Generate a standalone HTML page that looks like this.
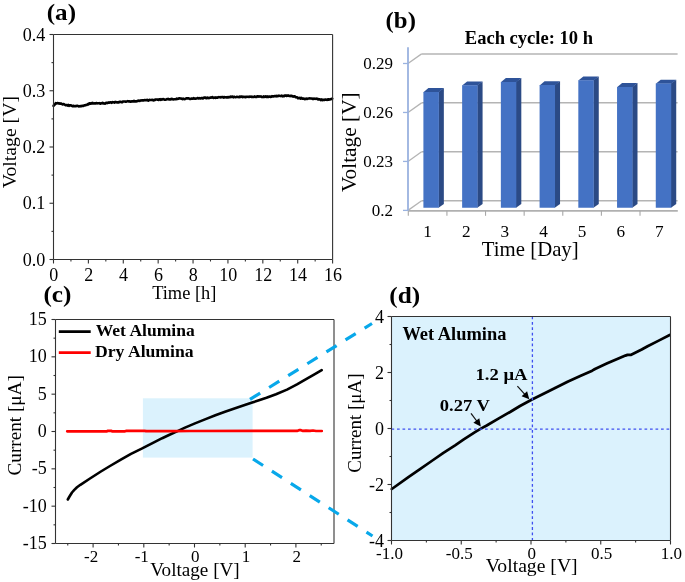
<!DOCTYPE html>
<html><head><meta charset="utf-8"><style>
html,body{margin:0;padding:0;background:#fff;}
svg{display:block;will-change:transform;}
text{font-family:"Liberation Serif",serif;fill:#000;}
</style></head><body>
<svg width="685" height="582" viewBox="0 0 685 582">
<rect width="685" height="582" fill="#fff"/>
<path d="M53.60,105.84 L54.30,104.80 L55.00,104.37 L55.70,103.20 L56.40,103.56 L57.10,103.35 L57.80,103.02 L58.50,103.50 L59.20,103.20 L59.90,103.68 L60.60,103.48 L61.30,103.63 L62.00,104.05 L62.70,104.54 L63.40,104.04 L64.10,104.26 L64.80,104.76 L65.50,105.19 L66.20,104.99 L66.90,104.96 L67.60,105.62 L68.30,104.92 L69.00,105.79 L69.70,105.41 L70.40,105.36 L71.10,105.41 L71.80,105.67 L72.50,106.20 L73.20,105.71 L73.90,106.15 L74.60,106.28 L75.30,106.09 L76.00,106.26 L76.70,105.84 L77.40,105.85 L78.10,105.99 L78.80,106.43 L79.50,106.21 L80.20,106.12 L80.90,106.33 L81.60,106.05 L82.30,105.75 L83.00,106.03 L83.70,105.78 L84.40,105.21 L85.10,105.33 L85.80,105.01 L86.50,105.06 L87.20,104.66 L87.90,103.99 L88.60,104.34 L89.30,103.29 L90.00,103.48 L90.70,103.74 L91.40,103.14 L92.10,103.40 L92.80,102.94 L93.50,103.46 L94.20,103.50 L94.90,103.27 L95.60,103.54 L96.30,103.03 L97.00,103.38 L97.70,103.28 L98.40,103.27 L99.10,103.16 L99.80,103.51 L100.50,103.60 L101.20,103.18 L101.90,103.35 L102.60,102.80 L103.30,103.38 L104.00,103.33 L104.70,103.64 L105.40,103.43 L106.10,102.88 L106.80,102.91 L107.50,103.10 L108.20,102.45 L108.90,102.78 L109.60,102.46 L110.30,102.35 L111.00,102.23 L111.70,102.81 L112.40,102.17 L113.10,102.21 L113.80,102.27 L114.50,102.64 L115.20,101.87 L115.90,102.14 L116.60,102.20 L117.30,102.46 L118.00,102.36 L118.70,102.36 L119.40,101.80 L120.10,101.88 L120.80,101.79 L121.50,102.23 L122.20,102.26 L122.90,101.49 L123.60,101.48 L124.30,101.49 L125.00,101.45 L125.70,101.64 L126.40,101.69 L127.10,101.36 L127.80,101.09 L128.50,101.43 L129.20,101.34 L129.90,101.48 L130.60,101.79 L131.30,101.52 L132.00,101.32 L132.70,101.37 L133.40,101.39 L134.10,100.79 L134.80,101.51 L135.50,101.37 L136.20,101.41 L136.90,101.31 L137.60,100.90 L138.30,100.86 L139.00,100.55 L139.70,100.99 L140.40,100.43 L141.10,100.39 L141.80,100.47 L142.50,100.38 L143.20,100.50 L143.90,100.19 L144.60,100.10 L145.30,100.19 L146.00,100.10 L146.70,100.30 L147.40,99.95 L148.10,100.67 L148.80,100.39 L149.50,99.92 L150.20,99.97 L150.90,100.01 L151.60,99.98 L152.30,99.72 L153.00,100.33 L153.70,100.41 L154.40,99.90 L155.10,99.87 L155.80,99.46 L156.50,99.43 L157.20,99.61 L157.90,99.49 L158.60,99.95 L159.30,99.31 L160.00,99.15 L160.70,99.96 L161.40,99.55 L162.10,99.18 L162.80,99.50 L163.50,99.01 L164.20,99.43 L164.90,99.81 L165.60,99.68 L166.30,99.50 L167.00,99.08 L167.70,99.14 L168.40,98.93 L169.10,99.45 L169.80,99.21 L170.50,99.40 L171.20,98.97 L171.90,98.84 L172.60,99.34 L173.30,99.47 L174.00,99.32 L174.70,99.25 L175.40,99.23 L176.10,99.13 L176.80,98.64 L177.50,98.88 L178.20,98.70 L178.90,98.38 L179.60,98.35 L180.30,98.55 L181.00,98.50 L181.70,98.87 L182.40,99.10 L183.10,98.63 L183.80,99.07 L184.50,99.10 L185.20,99.07 L185.90,98.53 L186.60,98.39 L187.30,98.39 L188.00,98.35 L188.70,98.35 L189.40,98.72 L190.10,98.96 L190.80,98.87 L191.50,98.51 L192.20,98.64 L192.90,98.74 L193.60,98.06 L194.30,98.55 L195.00,98.74 L195.70,98.59 L196.40,98.53 L197.10,98.26 L197.80,97.95 L198.50,98.47 L199.20,98.03 L199.90,98.42 L200.60,98.54 L201.30,97.99 L202.00,97.96 L202.70,98.42 L203.40,98.19 L204.10,97.66 L204.80,97.59 L205.50,97.58 L206.20,98.22 L206.90,98.10 L207.60,97.48 L208.30,98.06 L209.00,98.16 L209.70,97.84 L210.40,97.53 L211.10,97.68 L211.80,97.27 L212.50,97.15 L213.20,97.99 L213.90,97.68 L214.60,97.55 L215.30,97.90 L216.00,97.43 L216.70,97.80 L217.40,97.74 L218.10,97.17 L218.80,97.19 L219.50,97.21 L220.20,97.14 L220.90,97.43 L221.60,97.12 L222.30,97.24 L223.00,96.96 L223.70,97.65 L224.40,97.13 L225.10,97.20 L225.80,97.29 L226.50,97.56 L227.20,97.11 L227.90,97.54 L228.60,97.14 L229.30,97.15 L230.00,97.13 L230.70,96.65 L231.40,97.01 L232.10,96.76 L232.80,96.58 L233.50,97.28 L234.20,96.70 L234.90,96.96 L235.60,97.17 L236.30,97.01 L237.00,96.78 L237.70,96.95 L238.40,96.97 L239.10,97.16 L239.80,96.54 L240.50,96.93 L241.20,96.64 L241.90,96.65 L242.60,97.08 L243.30,96.83 L244.00,96.87 L244.70,97.03 L245.40,97.16 L246.10,96.72 L246.80,96.86 L247.50,96.75 L248.20,96.75 L248.90,96.90 L249.60,96.67 L250.30,96.73 L251.00,96.67 L251.70,97.07 L252.40,96.84 L253.10,96.99 L253.80,97.03 L254.50,96.41 L255.20,96.66 L255.90,97.01 L256.60,96.95 L257.30,96.35 L258.00,96.37 L258.70,96.69 L259.40,96.39 L260.10,96.56 L260.80,96.39 L261.50,96.91 L262.20,97.00 L262.90,97.08 L263.60,96.39 L264.30,96.88 L265.00,96.81 L265.70,96.32 L266.40,96.97 L267.10,97.03 L267.80,96.33 L268.50,96.98 L269.20,96.46 L269.90,96.52 L270.60,96.95 L271.30,96.78 L272.00,96.14 L272.70,96.34 L273.40,96.38 L274.10,96.18 L274.80,96.02 L275.50,96.09 L276.20,96.41 L276.90,95.74 L277.60,96.19 L278.30,96.04 L279.00,95.63 L279.70,95.87 L280.40,96.09 L281.10,95.96 L281.80,95.51 L282.50,96.32 L283.20,96.13 L283.90,96.27 L284.60,95.47 L285.30,95.60 L286.00,95.38 L286.70,96.03 L287.40,95.55 L288.10,95.41 L288.80,95.65 L289.50,96.07 L290.20,96.08 L290.90,95.69 L291.60,95.70 L292.30,96.50 L293.00,96.33 L293.70,96.66 L294.40,96.33 L295.10,96.51 L295.80,97.30 L296.50,97.28 L297.20,97.18 L297.90,98.17 L298.60,98.06 L299.30,98.31 L300.00,97.77 L300.70,98.56 L301.40,97.95 L302.10,98.77 L302.80,98.50 L303.50,98.50 L304.20,98.79 L304.90,99.23 L305.60,98.73 L306.30,98.65 L307.00,98.97 L307.70,98.67 L308.40,98.52 L309.10,98.53 L309.80,98.39 L310.50,98.49 L311.20,98.55 L311.90,98.55 L312.60,99.02 L313.30,98.64 L314.00,98.89 L314.70,98.65 L315.40,98.85 L316.10,98.61 L316.80,98.87 L317.50,98.75 L318.20,99.50 L318.90,99.44 L319.60,99.21 L320.30,99.57 L321.00,100.09 L321.70,99.44 L322.40,100.19 L323.10,99.78 L323.80,99.77 L324.50,100.01 L325.20,99.55 L325.90,99.59 L326.60,99.69 L327.30,99.89 L328.00,99.25 L328.70,99.65 L329.40,99.49 L330.10,99.38 L330.80,99.12 L331.50,99.02 L332.20,98.71" fill="none" stroke="#000" stroke-width="2.6" stroke-linejoin="round" stroke-linecap="round" />
<line x1="53.50" y1="34.50" x2="332.60" y2="34.50" stroke="#333333" stroke-width="1.1" />
<line x1="332.60" y1="34.50" x2="332.60" y2="259.50" stroke="#333333" stroke-width="1.1" />
<line x1="53.50" y1="259.50" x2="332.60" y2="259.50" stroke="#333333" stroke-width="1.1" />
<line x1="53.50" y1="34.50" x2="53.50" y2="259.50" stroke="#333333" stroke-width="1.1" />
<line x1="53.50" y1="259.50" x2="53.50" y2="263.50" stroke="#333333" stroke-width="1.1" />
<line x1="70.94" y1="259.50" x2="70.94" y2="261.50" stroke="#333333" stroke-width="1.1" />
<line x1="88.39" y1="259.50" x2="88.39" y2="263.50" stroke="#333333" stroke-width="1.1" />
<line x1="105.83" y1="259.50" x2="105.83" y2="261.50" stroke="#333333" stroke-width="1.1" />
<line x1="123.28" y1="259.50" x2="123.28" y2="263.50" stroke="#333333" stroke-width="1.1" />
<line x1="140.72" y1="259.50" x2="140.72" y2="261.50" stroke="#333333" stroke-width="1.1" />
<line x1="158.16" y1="259.50" x2="158.16" y2="263.50" stroke="#333333" stroke-width="1.1" />
<line x1="175.61" y1="259.50" x2="175.61" y2="261.50" stroke="#333333" stroke-width="1.1" />
<line x1="193.05" y1="259.50" x2="193.05" y2="263.50" stroke="#333333" stroke-width="1.1" />
<line x1="210.49" y1="259.50" x2="210.49" y2="261.50" stroke="#333333" stroke-width="1.1" />
<line x1="227.94" y1="259.50" x2="227.94" y2="263.50" stroke="#333333" stroke-width="1.1" />
<line x1="245.38" y1="259.50" x2="245.38" y2="261.50" stroke="#333333" stroke-width="1.1" />
<line x1="262.83" y1="259.50" x2="262.83" y2="263.50" stroke="#333333" stroke-width="1.1" />
<line x1="280.27" y1="259.50" x2="280.27" y2="261.50" stroke="#333333" stroke-width="1.1" />
<line x1="297.71" y1="259.50" x2="297.71" y2="263.50" stroke="#333333" stroke-width="1.1" />
<line x1="315.16" y1="259.50" x2="315.16" y2="261.50" stroke="#333333" stroke-width="1.1" />
<line x1="332.60" y1="259.50" x2="332.60" y2="263.50" stroke="#333333" stroke-width="1.1" />
<line x1="49.50" y1="259.50" x2="53.50" y2="259.50" stroke="#333333" stroke-width="1.1" />
<line x1="51.50" y1="231.38" x2="53.50" y2="231.38" stroke="#333333" stroke-width="1.1" />
<line x1="49.50" y1="203.25" x2="53.50" y2="203.25" stroke="#333333" stroke-width="1.1" />
<line x1="51.50" y1="175.12" x2="53.50" y2="175.12" stroke="#333333" stroke-width="1.1" />
<line x1="49.50" y1="147.00" x2="53.50" y2="147.00" stroke="#333333" stroke-width="1.1" />
<line x1="51.50" y1="118.88" x2="53.50" y2="118.88" stroke="#333333" stroke-width="1.1" />
<line x1="49.50" y1="90.75" x2="53.50" y2="90.75" stroke="#333333" stroke-width="1.1" />
<line x1="51.50" y1="62.62" x2="53.50" y2="62.62" stroke="#333333" stroke-width="1.1" />
<line x1="49.50" y1="34.50" x2="53.50" y2="34.50" stroke="#333333" stroke-width="1.1" />
<text x="45.40" y="265.50" font-size="18" text-anchor="end" textLength="22.6" lengthAdjust="spacingAndGlyphs" >0.0</text>
<text x="45.40" y="209.25" font-size="18" text-anchor="end" textLength="22.6" lengthAdjust="spacingAndGlyphs" >0.1</text>
<text x="45.40" y="153.00" font-size="18" text-anchor="end" textLength="22.6" lengthAdjust="spacingAndGlyphs" >0.2</text>
<text x="45.40" y="96.75" font-size="18" text-anchor="end" textLength="22.6" lengthAdjust="spacingAndGlyphs" >0.3</text>
<text x="45.40" y="40.50" font-size="18" text-anchor="end" textLength="22.6" lengthAdjust="spacingAndGlyphs" >0.4</text>
<text x="58.30" y="280.60" font-size="18" text-anchor="end" >0</text>
<text x="93.19" y="280.60" font-size="18" text-anchor="end" >2</text>
<text x="128.07" y="280.60" font-size="18" text-anchor="end" >4</text>
<text x="162.96" y="280.60" font-size="18" text-anchor="end" >6</text>
<text x="197.85" y="280.60" font-size="18" text-anchor="end" >8</text>
<text x="237.24" y="280.60" font-size="18" text-anchor="end" >10</text>
<text x="272.13" y="280.60" font-size="18" text-anchor="end" >12</text>
<text x="307.01" y="280.60" font-size="18" text-anchor="end" >14</text>
<text x="341.90" y="280.60" font-size="18" text-anchor="end" >16</text>
<text x="152.13" y="298.90" font-size="18.5" text-anchor="start" textLength="64.28" lengthAdjust="spacingAndGlyphs" >Time [h]</text>
<text x="-0.20" y="0.00" font-size="18.5" text-anchor="start" textLength="92.27" lengthAdjust="spacingAndGlyphs" transform="translate(16,188.1) rotate(-90)">Voltage [V]</text>
<text x="46.77" y="20.45" font-size="23.5" text-anchor="start" font-weight="bold" textLength="29.26" lengthAdjust="spacingAndGlyphs" >(a)</text>
<line x1="408.00" y1="210.40" x2="421.60" y2="200.80" stroke="#b4b4b4" stroke-width="1.3" />
<line x1="421.60" y1="200.80" x2="677.60" y2="200.80" stroke="#b4b4b4" stroke-width="1.5" />
<line x1="408.00" y1="161.43" x2="421.60" y2="151.83" stroke="#b4b4b4" stroke-width="1.3" />
<line x1="421.60" y1="151.83" x2="677.60" y2="151.83" stroke="#b4b4b4" stroke-width="1.5" />
<line x1="408.00" y1="112.46" x2="421.60" y2="102.86" stroke="#b4b4b4" stroke-width="1.3" />
<line x1="421.60" y1="102.86" x2="677.60" y2="102.86" stroke="#b4b4b4" stroke-width="1.5" />
<line x1="408.00" y1="63.49" x2="421.60" y2="53.89" stroke="#b4b4b4" stroke-width="1.3" />
<line x1="421.60" y1="53.89" x2="677.60" y2="53.89" stroke="#b4b4b4" stroke-width="1.5" />
<line x1="408.00" y1="210.80" x2="677.80" y2="210.80" stroke="#b0b0b0" stroke-width="1.8" />
<line x1="408.30" y1="210.80" x2="408.30" y2="215.80" stroke="#a8a8a8" stroke-width="1.1" />
<line x1="446.92" y1="210.80" x2="446.92" y2="215.80" stroke="#a8a8a8" stroke-width="1.1" />
<line x1="485.54" y1="210.80" x2="485.54" y2="215.80" stroke="#a8a8a8" stroke-width="1.1" />
<line x1="524.16" y1="210.80" x2="524.16" y2="215.80" stroke="#a8a8a8" stroke-width="1.1" />
<line x1="562.78" y1="210.80" x2="562.78" y2="215.80" stroke="#a8a8a8" stroke-width="1.1" />
<line x1="601.40" y1="210.80" x2="601.40" y2="215.80" stroke="#a8a8a8" stroke-width="1.1" />
<line x1="640.02" y1="210.80" x2="640.02" y2="215.80" stroke="#a8a8a8" stroke-width="1.1" />
<polygon points="438.55,91.90 443.85,88.10 443.85,204.00 438.55,207.80" fill="#2b4a85" />
<polygon points="423.40,92.20 428.40,88.10 443.85,88.10 438.85,92.20" fill="#2e5399" />
<polygon points="423.40,91.90 438.85,91.90 438.85,207.80 423.40,207.80" fill="#4472c4" />
<polygon points="477.28,85.20 482.58,81.40 482.58,204.00 477.28,207.80" fill="#2b4a85" />
<polygon points="462.13,85.50 467.13,81.40 482.58,81.40 477.58,85.50" fill="#2e5399" />
<polygon points="462.13,85.20 477.58,85.20 477.58,207.80 462.13,207.80" fill="#4472c4" />
<polygon points="516.01,81.90 521.31,78.10 521.31,204.00 516.01,207.80" fill="#2b4a85" />
<polygon points="500.86,82.20 505.86,78.10 521.31,78.10 516.31,82.20" fill="#2e5399" />
<polygon points="500.86,81.90 516.31,81.90 516.31,207.80 500.86,207.80" fill="#4472c4" />
<polygon points="554.74,85.10 560.04,81.30 560.04,204.00 554.74,207.80" fill="#2b4a85" />
<polygon points="539.59,85.40 544.59,81.30 560.04,81.30 555.04,85.40" fill="#2e5399" />
<polygon points="539.59,85.10 555.04,85.10 555.04,207.80 539.59,207.80" fill="#4472c4" />
<polygon points="593.47,80.20 598.77,76.40 598.77,204.00 593.47,207.80" fill="#2b4a85" />
<polygon points="578.32,80.50 583.32,76.40 598.77,76.40 593.77,80.50" fill="#2e5399" />
<polygon points="578.32,80.20 593.77,80.20 593.77,207.80 578.32,207.80" fill="#4472c4" />
<polygon points="632.20,86.90 637.50,83.10 637.50,204.00 632.20,207.80" fill="#2b4a85" />
<polygon points="617.05,87.20 622.05,83.10 637.50,83.10 632.50,87.20" fill="#2e5399" />
<polygon points="617.05,86.90 632.50,86.90 632.50,207.80 617.05,207.80" fill="#4472c4" />
<polygon points="670.93,83.50 676.23,79.70 676.23,204.00 670.93,207.80" fill="#2b4a85" />
<polygon points="655.78,83.80 660.78,79.70 676.23,79.70 671.23,83.80" fill="#2e5399" />
<polygon points="655.78,83.50 671.23,83.50 671.23,207.80 655.78,207.80" fill="#4472c4" />
<line x1="408.00" y1="47.17" x2="408.00" y2="210.80" stroke="#9ab2df" stroke-width="1.8" />
<line x1="403.00" y1="210.40" x2="408.00" y2="210.40" stroke="#9ab2df" stroke-width="1.3" />
<line x1="403.00" y1="161.43" x2="408.00" y2="161.43" stroke="#9ab2df" stroke-width="1.3" />
<line x1="403.00" y1="112.46" x2="408.00" y2="112.46" stroke="#9ab2df" stroke-width="1.3" />
<line x1="403.00" y1="63.49" x2="408.00" y2="63.49" stroke="#9ab2df" stroke-width="1.3" />
<text x="393.00" y="216.20" font-size="17" text-anchor="end" >0.2</text>
<text x="393.00" y="167.23" font-size="17" text-anchor="end" >0.23</text>
<text x="393.00" y="118.26" font-size="17" text-anchor="end" >0.26</text>
<text x="393.00" y="69.29" font-size="17" text-anchor="end" >0.29</text>
<text x="427.60" y="236.60" font-size="17.2" text-anchor="middle" >1</text>
<text x="466.22" y="236.60" font-size="17.2" text-anchor="middle" >2</text>
<text x="504.84" y="236.60" font-size="17.2" text-anchor="middle" >3</text>
<text x="543.46" y="236.60" font-size="17.2" text-anchor="middle" >4</text>
<text x="582.08" y="236.60" font-size="17.2" text-anchor="middle" >5</text>
<text x="620.70" y="236.60" font-size="17.2" text-anchor="middle" >6</text>
<text x="659.32" y="236.60" font-size="17.2" text-anchor="middle" >7</text>
<text x="481.88" y="256.40" font-size="20.4" text-anchor="start" textLength="96.82" lengthAdjust="spacingAndGlyphs" >Time [Day]</text>
<text x="-0.21" y="0.00" font-size="21" text-anchor="start" textLength="99.81" lengthAdjust="spacingAndGlyphs" transform="translate(356.4,191.9) rotate(-90)">Voltage [V]</text>
<text x="464.82" y="43.80" font-size="18.4" text-anchor="start" font-weight="bold" textLength="128.17" lengthAdjust="spacingAndGlyphs" >Each cycle: 10 h</text>
<text x="385.64" y="28.20" font-size="24" text-anchor="start" font-weight="bold" textLength="30.26" lengthAdjust="spacingAndGlyphs" >(b)</text>
<rect x="142.9" y="398.3" width="109.7" height="59.3" fill="#dbf2fd"/>
<path d="M67.80,499.50 L69.50,496.50 L72.00,492.50 L74.30,489.90 L77.00,487.30 L80.40,484.80 L90.00,478.50 L100.90,471.50 L110.00,466.00 L121.30,459.30 L131.00,453.80 L141.70,448.60 L152.00,443.30 L162.20,438.20 L169.00,435.00 L176.50,431.60 L185.00,427.60 L195.00,423.40 L205.00,419.40 L215.40,415.30 L225.00,411.70 L235.90,408.00 L244.00,405.30 L252.20,402.50 L259.00,400.30 L266.50,397.80 L276.00,394.30 L287.00,389.60 L297.00,384.40 L307.40,378.40 L314.00,374.60 L321.70,370.20" fill="none" stroke="#000" stroke-width="2.6" stroke-linejoin="round" stroke-linecap="round" />
<path d="M67.20,431.30 L107.00,431.30 L108.00,430.80 L111.00,430.80 L112.00,431.30 L125.00,431.30 L126.00,430.90 L145.00,430.90 L146.00,431.20 L175.00,431.20 L190.00,431.00 L297.00,430.90 L299.00,430.20 L301.00,430.20 L303.00,430.90 L306.00,430.60 L310.00,430.90 L313.00,430.50 L316.00,431.00 L321.80,431.00" fill="none" stroke="#ff0000" stroke-width="2.7" stroke-linejoin="round" stroke-linecap="round" />
<line x1="55.50" y1="319.50" x2="334.00" y2="319.50" stroke="#333333" stroke-width="1.1" />
<line x1="334.00" y1="319.50" x2="334.00" y2="543.50" stroke="#333333" stroke-width="1.1" />
<line x1="55.50" y1="543.50" x2="334.00" y2="543.50" stroke="#333333" stroke-width="1.1" />
<line x1="55.50" y1="319.50" x2="55.50" y2="543.50" stroke="#333333" stroke-width="1.1" />
<line x1="67.75" y1="543.50" x2="67.75" y2="545.50" stroke="#333333" stroke-width="1.1" />
<line x1="93.10" y1="543.50" x2="93.10" y2="547.50" stroke="#333333" stroke-width="1.1" />
<line x1="118.45" y1="543.50" x2="118.45" y2="545.50" stroke="#333333" stroke-width="1.1" />
<line x1="143.80" y1="543.50" x2="143.80" y2="547.50" stroke="#333333" stroke-width="1.1" />
<line x1="169.15" y1="543.50" x2="169.15" y2="545.50" stroke="#333333" stroke-width="1.1" />
<line x1="194.50" y1="543.50" x2="194.50" y2="547.50" stroke="#333333" stroke-width="1.1" />
<line x1="219.85" y1="543.50" x2="219.85" y2="545.50" stroke="#333333" stroke-width="1.1" />
<line x1="245.20" y1="543.50" x2="245.20" y2="547.50" stroke="#333333" stroke-width="1.1" />
<line x1="270.55" y1="543.50" x2="270.55" y2="545.50" stroke="#333333" stroke-width="1.1" />
<line x1="295.90" y1="543.50" x2="295.90" y2="547.50" stroke="#333333" stroke-width="1.1" />
<line x1="321.25" y1="543.50" x2="321.25" y2="545.50" stroke="#333333" stroke-width="1.1" />
<line x1="51.50" y1="543.50" x2="55.50" y2="543.50" stroke="#333333" stroke-width="1.1" />
<line x1="53.50" y1="524.83" x2="55.50" y2="524.83" stroke="#333333" stroke-width="1.1" />
<line x1="51.50" y1="506.17" x2="55.50" y2="506.17" stroke="#333333" stroke-width="1.1" />
<line x1="53.50" y1="487.50" x2="55.50" y2="487.50" stroke="#333333" stroke-width="1.1" />
<line x1="51.50" y1="468.83" x2="55.50" y2="468.83" stroke="#333333" stroke-width="1.1" />
<line x1="53.50" y1="450.17" x2="55.50" y2="450.17" stroke="#333333" stroke-width="1.1" />
<line x1="51.50" y1="431.50" x2="55.50" y2="431.50" stroke="#333333" stroke-width="1.1" />
<line x1="53.50" y1="412.83" x2="55.50" y2="412.83" stroke="#333333" stroke-width="1.1" />
<line x1="51.50" y1="394.17" x2="55.50" y2="394.17" stroke="#333333" stroke-width="1.1" />
<line x1="53.50" y1="375.50" x2="55.50" y2="375.50" stroke="#333333" stroke-width="1.1" />
<line x1="51.50" y1="356.83" x2="55.50" y2="356.83" stroke="#333333" stroke-width="1.1" />
<line x1="53.50" y1="338.17" x2="55.50" y2="338.17" stroke="#333333" stroke-width="1.1" />
<line x1="51.50" y1="319.50" x2="55.50" y2="319.50" stroke="#333333" stroke-width="1.1" />
<text x="46.80" y="325.10" font-size="18" text-anchor="end" >15</text>
<text x="46.80" y="362.43" font-size="18" text-anchor="end" >10</text>
<text x="46.80" y="399.77" font-size="18" text-anchor="end" >5</text>
<text x="46.80" y="437.10" font-size="18" text-anchor="end" >0</text>
<text x="46.80" y="474.43" font-size="18" text-anchor="end" >-5</text>
<text x="46.80" y="511.77" font-size="18" text-anchor="end" >-10</text>
<text x="46.80" y="549.10" font-size="18" text-anchor="end" >-15</text>
<text x="98.15" y="562.20" font-size="17" text-anchor="end" >-2</text>
<text x="148.85" y="562.20" font-size="17" text-anchor="end" >-1</text>
<text x="199.55" y="562.20" font-size="17" text-anchor="end" >0</text>
<text x="250.25" y="562.20" font-size="17" text-anchor="end" >1</text>
<text x="300.95" y="562.20" font-size="17" text-anchor="end" >2</text>
<text x="-0.77" y="0.00" font-size="18.8" text-anchor="start" textLength="100.29" lengthAdjust="spacingAndGlyphs" transform="translate(20.8,474.7) rotate(-90)">Current [μA]</text>
<text x="150.21" y="576.30" font-size="18.5" text-anchor="start" textLength="89.52" lengthAdjust="spacingAndGlyphs" >Voltage [V]</text>
<text x="43.47" y="302.30" font-size="24" text-anchor="start" font-weight="bold" textLength="27.97" lengthAdjust="spacingAndGlyphs" >(c)</text>
<line x1="58.80" y1="331.60" x2="90.70" y2="331.60" stroke="#000" stroke-width="2.6" />
<line x1="58.80" y1="352.60" x2="90.70" y2="352.60" stroke="#ff0000" stroke-width="2.6" />
<text x="95.74" y="335.50" font-size="17" text-anchor="start" font-weight="bold" textLength="99.02" lengthAdjust="spacingAndGlyphs" >Wet Alumina</text>
<text x="95.04" y="357.40" font-size="17" text-anchor="start" font-weight="bold" textLength="98.61" lengthAdjust="spacingAndGlyphs" >Dry Alumina</text>
<rect x="391.5" y="316.5" width="279.0" height="224.0" fill="#dbf2fd"/>
<path d="M391.80,489.00 L408.40,477.10 L420.00,469.20 L431.70,461.00 L443.40,452.80 L455.10,445.30 L463.40,439.70 L475.00,432.10 L480.90,428.60 L486.70,425.50 L498.40,418.70 L510.10,412.00 L520.00,406.00 L532.00,399.50 L544.10,393.50 L556.10,387.50 L568.10,381.50 L580.20,376.10 L592.20,370.70 L595.00,369.00 L606.70,363.60 L618.40,358.50 L625.40,355.60 L627.50,354.90 L631.20,354.80 L641.70,349.50 L647.60,346.20 L659.20,340.40 L669.70,335.00" fill="none" stroke="#000" stroke-width="2.7" stroke-linejoin="round" stroke-linecap="round" />
<line x1="532.40" y1="316.50" x2="532.40" y2="540.50" stroke="#3f4ff0" stroke-width="1.3" stroke-dasharray="2.8 2.6"/>
<line x1="391.50" y1="429.20" x2="670.50" y2="429.20" stroke="#3f4ff0" stroke-width="1.3" stroke-dasharray="2.7 2.8"/>
<line x1="391.50" y1="316.50" x2="670.50" y2="316.50" stroke="#333333" stroke-width="1.1" />
<line x1="670.50" y1="316.50" x2="670.50" y2="540.50" stroke="#333333" stroke-width="1.1" />
<line x1="391.50" y1="540.50" x2="670.50" y2="540.50" stroke="#333333" stroke-width="1.1" />
<line x1="391.50" y1="316.50" x2="391.50" y2="540.50" stroke="#333333" stroke-width="1.1" />
<line x1="391.50" y1="540.50" x2="391.50" y2="544.50" stroke="#333333" stroke-width="1.1" />
<line x1="426.38" y1="540.50" x2="426.38" y2="542.50" stroke="#333333" stroke-width="1.1" />
<line x1="461.25" y1="540.50" x2="461.25" y2="544.50" stroke="#333333" stroke-width="1.1" />
<line x1="496.12" y1="540.50" x2="496.12" y2="542.50" stroke="#333333" stroke-width="1.1" />
<line x1="531.00" y1="540.50" x2="531.00" y2="544.50" stroke="#333333" stroke-width="1.1" />
<line x1="565.88" y1="540.50" x2="565.88" y2="542.50" stroke="#333333" stroke-width="1.1" />
<line x1="600.75" y1="540.50" x2="600.75" y2="544.50" stroke="#333333" stroke-width="1.1" />
<line x1="635.62" y1="540.50" x2="635.62" y2="542.50" stroke="#333333" stroke-width="1.1" />
<line x1="670.50" y1="540.50" x2="670.50" y2="544.50" stroke="#333333" stroke-width="1.1" />
<line x1="387.50" y1="540.50" x2="391.50" y2="540.50" stroke="#333333" stroke-width="1.1" />
<line x1="389.50" y1="512.50" x2="391.50" y2="512.50" stroke="#333333" stroke-width="1.1" />
<line x1="387.50" y1="484.50" x2="391.50" y2="484.50" stroke="#333333" stroke-width="1.1" />
<line x1="389.50" y1="456.50" x2="391.50" y2="456.50" stroke="#333333" stroke-width="1.1" />
<line x1="387.50" y1="428.50" x2="391.50" y2="428.50" stroke="#333333" stroke-width="1.1" />
<line x1="389.50" y1="400.50" x2="391.50" y2="400.50" stroke="#333333" stroke-width="1.1" />
<line x1="387.50" y1="372.50" x2="391.50" y2="372.50" stroke="#333333" stroke-width="1.1" />
<line x1="389.50" y1="344.50" x2="391.50" y2="344.50" stroke="#333333" stroke-width="1.1" />
<line x1="387.50" y1="316.50" x2="391.50" y2="316.50" stroke="#333333" stroke-width="1.1" />
<text x="384.10" y="322.50" font-size="18" text-anchor="end" >4</text>
<text x="384.10" y="378.50" font-size="18" text-anchor="end" >2</text>
<text x="384.10" y="434.50" font-size="18" text-anchor="end" >0</text>
<text x="384.10" y="490.50" font-size="18" text-anchor="end" >-2</text>
<text x="384.10" y="546.50" font-size="18" text-anchor="end" >-4</text>
<text x="402.93" y="558.70" font-size="17" text-anchor="end" >-1.0</text>
<text x="472.68" y="558.70" font-size="17" text-anchor="end" >-0.5</text>
<text x="536.05" y="558.70" font-size="17" text-anchor="end" >0</text>
<text x="612.17" y="558.70" font-size="17" text-anchor="end" >0.5</text>
<text x="681.92" y="558.70" font-size="17" text-anchor="end" >1.0</text>
<text x="-0.76" y="0.00" font-size="18.8" text-anchor="start" textLength="99.27" lengthAdjust="spacingAndGlyphs" transform="translate(361.2,472.0) rotate(-90)">Current [μA]</text>
<text x="485.70" y="571.50" font-size="18.5" text-anchor="start" textLength="91.97" lengthAdjust="spacingAndGlyphs" >Voltage [V]</text>
<text x="389.36" y="303.20" font-size="24" text-anchor="start" font-weight="bold" textLength="30.91" lengthAdjust="spacingAndGlyphs" >(d)</text>
<text x="402.42" y="339.80" font-size="18" text-anchor="start" font-weight="bold" textLength="103.95" lengthAdjust="spacingAndGlyphs" >Wet Alumina</text>
<text x="475.51" y="379.80" font-size="16.5" text-anchor="start" font-weight="bold" textLength="51.96" lengthAdjust="spacingAndGlyphs" >1.2 μA</text>
<text x="439.76" y="411.10" font-size="17" text-anchor="start" font-weight="bold" textLength="50.21" lengthAdjust="spacingAndGlyphs" >0.27 V</text>
<line x1="517.40" y1="386.10" x2="527.29" y2="397.07" stroke="#111" stroke-width="1.2" />
<polygon points="529.30,399.30 521.60,396.28 527.09,391.33" fill="#000" />
<line x1="471.00" y1="413.30" x2="479.00" y2="424.00" stroke="#111" stroke-width="1.2" />
<polygon points="480.80,426.40 473.40,422.69 479.33,418.26" fill="#000" />
<line x1="250.00" y1="399.40" x2="372.00" y2="323.50" stroke="#08a8ea" stroke-width="3.2" stroke-dasharray="12 10.5"/>
<line x1="253.00" y1="459.00" x2="372.50" y2="536.00" stroke="#08a8ea" stroke-width="3.2" stroke-dasharray="12 10.5"/>
</svg>
</body></html>
